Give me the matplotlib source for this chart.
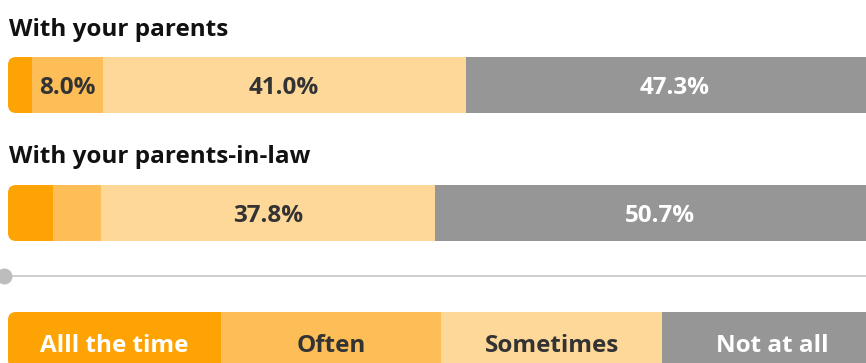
import matplotlib.pyplot as plt
from matplotlib.patches import FancyBboxPatch

plt.rcParams['font.family'] = ['Open Sans', 'DejaVu Sans']

categories = ['Alll the time', 'Often', 'Sometimes', 'Not at all']
groups = ['With your parents', 'With your parents-in-law']
parents = [2.7, 8.0, 41.0, 47.3]
in_law = [5.1, 5.4, 37.8, 50.7]

colors = ['#fea304', '#febe57', '#fed898', '#969696']
text_colors = ['white', '#333333', '#333333', 'white']

px = 8.85  # pixels per percent
fig = plt.figure(figsize=(8.66, 3.63), dpi=100)
ax = fig.add_axes([0, 0, 1, 1])
ax.set_xlim(-8 / px, 858 / px)
ax.set_ylim(363, 0)
ax.axis('off')


def rounded_clip(x0, x1, y_top, y_bot, radius=8):
    # rounded box in display pixels; the right end runs past the figure edge
    (dx0, dy0), (dx1, dy1) = ax.transData.transform([(x0, y_bot), (x1, y_top)])
    box = FancyBboxPatch((dx0, dy0), dx1 - dx0 + 60, dy1 - dy0,
                         boxstyle=f'round,pad=0,rounding_size={radius}',
                         transform=None, facecolor='none', edgecolor='none')
    return box


def stacked_row(values, yc, h=56, labels=True):
    left = 0
    bars = []
    for v, c, tc in zip(values, colors, text_colors):
        b = ax.barh(yc, v, left=left, height=h, color=c, linewidth=0)
        bars.extend(b)
        if labels and v >= 6:
            ax.text(left + v / 2, yc + 9.5, f'{v:.1f}%', ha='center', va='baseline',
                    fontsize=17.5, fontweight='bold', color=tc)
        left += v
    clip = rounded_clip(0, left, yc - h / 2, yc + h / 2)
    for b in bars:
        b.set_clip_path(clip)


title_y = [36, 163]
row_y = [85, 213]
for name, vals, ty, ry in zip(groups, [parents, in_law], title_y, row_y):
    ax.text(0.1, ty, name, ha='left', va='baseline', fontsize=17.5,
            fontweight='bold', color='#111111')
    stacked_row(vals, ry)

# divider with a dot at its start
ax.axhline(276, color='#c6c6c6', linewidth=1.2)
ax.plot([-0.45], [276], 'o', color='#bdbdbd', markersize=10.5, clip_on=False)

# legend strip
leg_left = [0, 24.07, 48.98, 73.9]
leg_width = [24.07, 24.91, 24.92, 24.9]
leg_bars = []
for cat, l, w, c, tc in zip(categories, leg_left, leg_width, colors, text_colors):
    b = ax.barh(340, w, left=l, height=56, color=c, linewidth=0)
    leg_bars.extend(b)
    ax.text(l + w / 2, 352, cat, ha='center', va='baseline', fontsize=17.5,
            fontweight='bold', color=tc)
clip = rounded_clip(0, 100, 312, 368)
for b in leg_bars:
    b.set_clip_path(clip)

fig.savefig('out.png', dpi=100)
